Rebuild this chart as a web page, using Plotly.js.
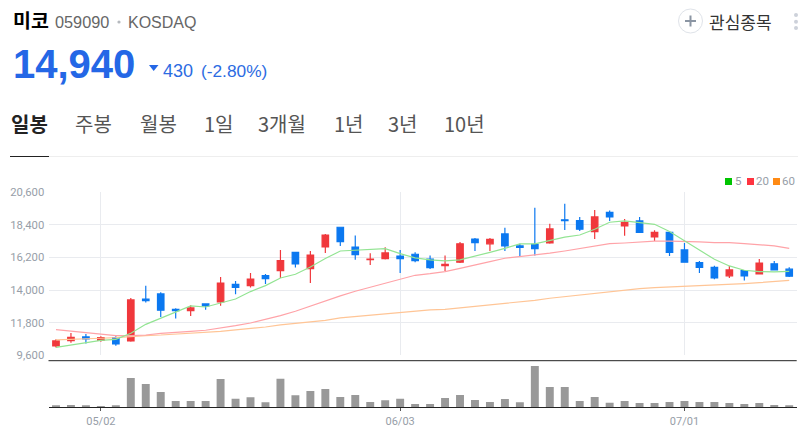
<!DOCTYPE html>
<html>
<head>
<meta charset="utf-8">
<script src="https://cdn.plot.ly/plotly-3.0.1.min.js"></script>
<style>html,body{margin:0;padding:0;background:#fff;overflow:hidden}#chart{width:810px;height:432px}</style>
</head>
<body>
<div id="chart"></div>
<script>
const dates = ["04/26","04/29","04/30","05/02","05/03","05/07","05/08","05/09","05/10","05/13","05/14","05/16","05/17","05/20","05/21","05/22","05/23","05/24","05/27","05/28","05/29","05/30","05/31","06/03","06/04","06/05","06/07","06/10","06/11","06/12","06/13","06/14","06/17","06/18","06/19","06/20","06/21","06/24","06/25","06/26","06/27","06/28","07/01","07/02","07/03","07/04","07/05","07/08","07/09","07/10"];
const opens = [10230,10590,10840,10610,10790,10570,13400,13740,12705,12615,13065,13200,14390,14300,14980,15315,16550,15450,16910,18240,16910,16060,16130,16300,16420,16100,15650,15880,17450,17120,17790,16980,17090,17180,18740,18690,17950,19250,18330,18670,17590,17900,16710,15860,15540,14960,15320,15090,15770,15410];
const highs = [10680,11110,11040,10880,10880,13470,14300,13850,12770,12975,13110,14890,14620,15160,15090,16710,16550,16640,17790,18240,17680,16490,16890,16710,16550,16330,16330,17250,17520,17520,18200,17120,19550,18470,19820,18940,19410,19370,18800,18940,18040,17950,17180,15970,15650,15630,15360,16100,15970,15540];
const lows = [10120,10455,10390,10520,10250,10520,13155,12190,12075,12255,12680,12950,13720,14170,14420,14820,15520,14480,16510,16980,16040,15700,16060,15160,15880,15430,15290,15830,16640,16640,16640,16300,16330,17120,18060,17990,17450,18670,17660,17860,17320,16300,15880,15160,14730,14820,14640,15070,15360,14890];
const closes = [10570,10815,10700,10790,10365,13335,13290,12640,12615,12795,12930,14480,14190,14750,14780,15990,15765,16370,17720,17270,16400,16100,16510,16130,15990,15520,15740,17120,17200,17430,16980,16890,16800,18130,18690,18110,18940,18940,18580,17900,17900,16550,15880,15540,14820,15360,14960,15830,15360,14940];
const ma5 = [10140,10300,10455,10610,10680,11085,11690,12100,12480,12930,12860,13110,13400,13900,14300,14820,15070,15560,16130,16640,16710,16730,16800,16460,16170,16040,15970,16040,16280,16550,16820,17120,17120,17340,17570,17720,18110,18580,18670,18560,18440,17950,17320,16690,16080,15630,15340,15250,15230,15270];
const ma20 = [11330,11220,11110,10995,10930,10930,10970,11085,11175,11220,11290,11420,11600,11780,12010,12280,12570,12930,13290,13610,13920,14190,14460,14730,15000,15110,15250,15470,15720,15920,16150,16260,16350,16490,16640,16800,16980,17140,17180,17250,17300,17300,17300,17250,17200,17200,17140,17070,16980,16820];
const ma60 = [10635,10660,10700,10750,10790,10880,10930,10970,11020,11085,11150,11220,11310,11400,11510,11650,11740,11850,11960,12120,12210,12300,12390,12480,12570,12660,12700,12800,12885,13000,13110,13200,13310,13450,13560,13670,13790,13900,13990,14100,14170,14210,14260,14300,14350,14390,14440,14500,14600,14660];
const volumes = [60000,70000,60000,40000,60000,880000,700000,460000,190000,190000,190000,850000,260000,300000,150000,860000,360000,490000,550000,310000,370000,160000,210000,260000,100000,100000,280000,370000,220000,160000,250000,150000,1240000,610000,610000,190000,310000,140000,190000,130000,130000,160000,190000,160000,160000,130000,100000,130000,70000,60000];
const priceTicks = [9600,11800,14000,16200,18400,20600];
const dateTicks = ["05/02","06/03","07/01"];
const legendLabels = ["5","20","60"];
const tabs = ["일봉","주봉","월봉","1일","3개월","1년","3년","10년"];
const tabX = [11,75,140,204,258,334,388,444];

const W = 810, H = 432;
const px = x => x / W, py = y => 1 - y / H;
const KR = '"Noto Sans CJK KR","Noto Sans",sans-serif';
const LS = '"Liberation Sans",Arial,sans-serif';
const RB = 'Roboto,sans-serif';
const up = '#f0383c', down = '#0b78f0', gridc = '#e9ebef', tickc = '#979ea8';

const traces = [
  {type:'bar', x:dates, y:volumes, xaxis:'x2', yaxis:'y2', marker:{color:'#999999', line:{width:0}}, hoverinfo:'skip'},
  {type:'candlestick', x:dates, open:opens, high:highs, low:lows, close:closes, xaxis:'x', yaxis:'y',
   increasing:{line:{color:up,width:1.2}, fillcolor:up}, decreasing:{line:{color:down,width:1.2}, fillcolor:down}, whiskerwidth:0, hoverinfo:'skip'},
  {type:'scatter', mode:'lines', x:dates, y:ma60, xaxis:'x', yaxis:'y', line:{color:'#ffc596', width:1.2}, hoverinfo:'skip'},
  {type:'scatter', mode:'lines', x:dates, y:ma20, xaxis:'x', yaxis:'y', line:{color:'#ffa3a8', width:1.2}, hoverinfo:'skip'},
  {type:'scatter', mode:'lines', x:dates, y:ma5, xaxis:'x', yaxis:'y', line:{color:'#93e493', width:1.2}, hoverinfo:'skip'}
];

function txt(t, x, y, size, color, weight, family){
  return {text: weight ? '<b>'+t+'</b>' : t, x:px(x), y:py(y), xref:'paper', yref:'paper', xanchor:'left', yanchor:'middle',
          showarrow:false, font:{size:size, color:color, family:family||KR}, borderpad:0, borderwidth:0};
}
const annotations = [
  txt('미코',13,20,19.5,'#000',true),
  txt('059090',54.5,22,16.3,'#666',false,LS),
  txt('KOSDAQ',127.5,22,16,'#666',false,LS),
  txt('14,940',12.5,64,40,'#2467e6',true,LS),
  txt('430',162.5,71,18,'#2c6be2',false,LS),
  txt('(-2.80%)',200.5,71,17.3,'#2c6be2',false,LS),
  txt('관심종목',708.5,21,17,'#333'),
  txt(legendLabels[0],734.5,181.5,11.5,tickc,false,RB),
  txt(legendLabels[1],755.5,181.5,11.5,tickc,false,RB),
  txt(legendLabels[2],781.5,181.5,11.5,tickc,false,RB)
];
tabs.forEach((t,i)=>annotations.push(txt(t,tabX[i],124,20,i===0?'#222':'#555',i===0)));

function rect(x0,y0,x1,y1,color){return {type:'rect',xref:'paper',yref:'paper',x0:px(x0),x1:px(x1),y0:py(y0),y1:py(y1),fillcolor:color,line:{width:0}};}
function line(x0,y0,x1,y1,color,w){return {type:'line',xref:'paper',yref:'paper',x0:px(x0),x1:px(x1),y0:py(y0),y1:py(y1),line:{color:color,width:w||1}};}
function circ(cx,cy,r,fill,lc,lw){return {type:'circle',xref:'paper',yref:'paper',x0:px(cx-r),x1:px(cx+r),y0:py(cy-r),y1:py(cy+r),fillcolor:fill,line:{color:lc||fill,width:lw||0}};}
const shapes = [
  line(48.5,360.7,796.7,360.7,'#222',1),
  line(49,156.5,798,156.5,'#eeeeee',1),
  line(10,156.5,49,156.5,'#222',1),
  rect(725,178,732,185,'#00c400'),
  rect(747,178,754,185,'#ff3440'),
  rect(773,178,780,185,'#ff8a14'),
  circ(119,22,1.6,'#b5b9be'),
  {type:'path',xref:'paper',yref:'paper',path:`M ${px(149)} ${py(65)} L ${px(158.5)} ${py(65)} L ${px(153.7)} ${py(71)} Z`,fillcolor:'#2467e6',line:{width:0}},
  circ(690.5,21,12,'#fff','#dfe3e9',1),
  line(685,21,696,21,'#8b95a3',2),
  line(690.5,15.5,690.5,26.5,'#8b95a3',2),
  circ(796,15,2,'#cdd1da'),
  circ(796,21.7,2,'#cdd1da'),
  circ(796,28,2,'#cdd1da')
];

const layout = {
  width:W, height:H, margin:{l:0,r:0,t:0,b:0}, paper_bgcolor:'#fff', plot_bgcolor:'rgba(0,0,0,0)', showlegend:false,
  boxmode:'overlay', boxgap:0.38, bargap:0.47, dragmode:false, hovermode:false,
  font:{family:RB, color:tickc, size:11.5},
  xaxis:{domain:[px(48.5),px(796.7)], anchor:'y', type:'category', categoryorder:'array', categoryarray:dates, range:[-0.5,49.5],
         rangeslider:{visible:false}, tickmode:'array', tickvals:dateTicks, ticktext:['','',''], showgrid:true, gridcolor:gridc, gridwidth:1, ticks:'', showline:false, zeroline:false, fixedrange:true},
  yaxis:{domain:[py(355.3),py(192.3)], anchor:'x', range:[9600,20600], tickmode:'array', tickvals:priceTicks, tickformat:',d', showgrid:true, gridcolor:gridc, gridwidth:1,
         ticks:'outside', ticklen:1, tickcolor:'rgba(0,0,0,0)', zeroline:false, showline:false, fixedrange:true, tickfont:{size:11.3,color:tickc,family:RB}},
  xaxis2:{domain:[px(48.5),px(796.7)], anchor:'y2', type:'category', categoryorder:'array', categoryarray:dates, range:[-0.5,49.5],
          tickmode:'array', tickvals:dateTicks, ticktext:dateTicks, ticks:'outside', ticklen:3, tickcolor:'#555', tickwidth:1, showgrid:false, showline:true, linecolor:'#222', linewidth:1, zeroline:false, fixedrange:true, tickfont:{size:11,color:tickc,family:RB}},
  yaxis2:{domain:[py(407.3),py(360.7)], anchor:'x2', range:[0,1400000], showticklabels:false, showgrid:false, zeroline:false, showline:false, ticks:'', fixedrange:true},
  annotations, shapes
};
Plotly.newPlot('chart', traces, layout, {displayModeBar:false, staticPlot:true});
</script>
</body>
</html>
